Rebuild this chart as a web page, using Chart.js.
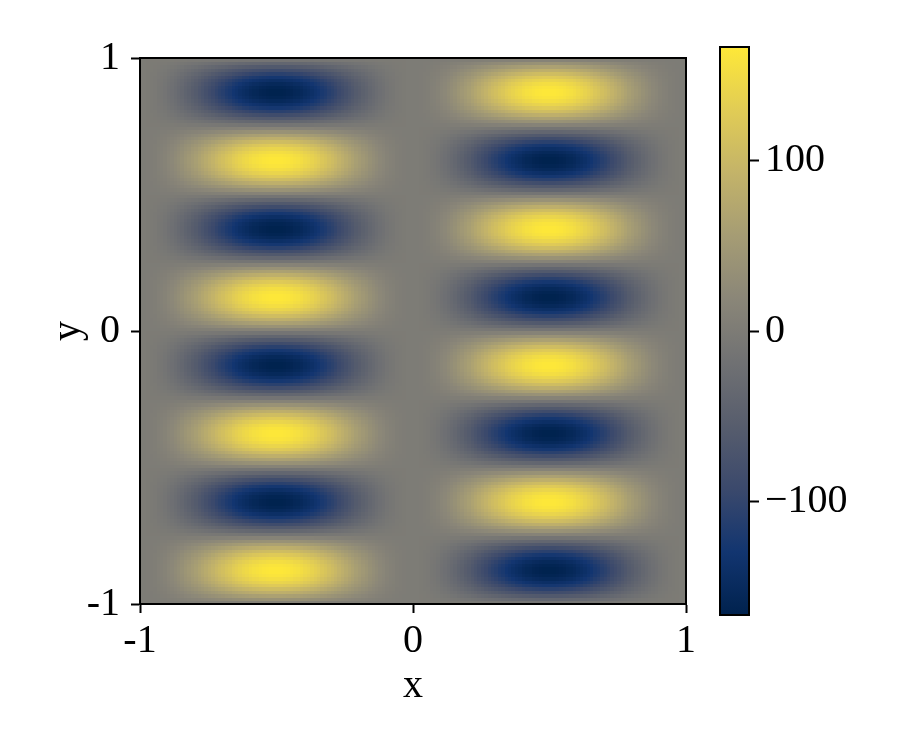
<!DOCTYPE html>
<html>
<head>
<meta charset="utf-8">
<script src="https://cdn.jsdelivr.net/npm/chart.js@4/dist/chart.umd.min.js"></script>
<style>
    body { margin: 0; background: #fff; }
    #wrap { position: relative; width: 900px; height: 750px; }
    #wrap canvas { position: absolute; left: 0; top: 0; }
</style>
</head>
<body>
<div id="wrap">
    <canvas id="heat" width="900" height="750"></canvas>
    <canvas id="cbar" width="900" height="750"></canvas>
</div>
<script>
// Grid cell centres (x and y run from -1 to 1, cell size 0.0125)
const cellSize = 0.0125;
const xCenters = [];
const yCenters = [];
for (let k = 0; k < 160; k++) {
    xCenters.push(-1 + cellSize * (k + 0.5));
    yCenters.push(-1 + cellSize * (k + 0.5));
}

// Amplitude along x, read across one band (left half positive, right half negative)
const xAmplitude = [
    0.00, 0.00, 0.01, 0.02, 0.03, 0.05, 0.06, 0.08, 0.11, 0.13,
    0.16, 0.19, 0.22, 0.26, 0.29, 0.33, 0.36, 0.40, 0.44, 0.48,
    0.52, 0.56, 0.60, 0.64, 0.67, 0.71, 0.74, 0.78, 0.81, 0.84,
    0.87, 0.89, 0.92, 0.94, 0.95, 0.97, 0.98, 0.99, 1.00, 1.00,
    1.00, 1.00, 0.99, 0.98, 0.97, 0.95, 0.94, 0.92, 0.89, 0.87,
    0.84, 0.81, 0.78, 0.74, 0.71, 0.67, 0.64, 0.60, 0.56, 0.52,
    0.48, 0.44, 0.40, 0.36, 0.33, 0.29, 0.26, 0.22, 0.19, 0.16,
    0.13, 0.11, 0.08, 0.06, 0.05, 0.03, 0.02, 0.01, 0.00, 0.00,
    -0.00, -0.00, -0.01, -0.02, -0.03, -0.05, -0.06, -0.08, -0.11, -0.13,
    -0.16, -0.19, -0.22, -0.26, -0.29, -0.33, -0.36, -0.40, -0.44, -0.48,
    -0.52, -0.56, -0.60, -0.64, -0.67, -0.71, -0.74, -0.78, -0.81, -0.84,
    -0.87, -0.89, -0.92, -0.94, -0.95, -0.97, -0.98, -0.99, -1.00, -1.00,
    -1.00, -1.00, -0.99, -0.98, -0.97, -0.95, -0.94, -0.92, -0.89, -0.87,
    -0.84, -0.81, -0.78, -0.74, -0.71, -0.67, -0.64, -0.60, -0.56, -0.52,
    -0.48, -0.44, -0.40, -0.36, -0.33, -0.29, -0.26, -0.22, -0.19, -0.16,
    -0.13, -0.11, -0.08, -0.06, -0.05, -0.03, -0.02, -0.01, -0.00, -0.00
];

// Values along the left band column, bottom (y=-1) to top (y=1)
const yValues = [
    13, 39, 64, 87, 108, 127, 142, 154, 162, 166,
    166, 162, 154, 142, 127, 108, 87, 64, 39, 13,
    -13, -39, -64, -87, -108, -127, -142, -154, -162, -166,
    -166, -162, -154, -142, -127, -108, -87, -64, -39, -13,
    13, 39, 64, 87, 108, 127, 142, 154, 162, 166,
    166, 162, 154, 142, 127, 108, 87, 64, 39, 13,
    -13, -39, -64, -87, -108, -127, -142, -154, -162, -166,
    -166, -162, -154, -142, -127, -108, -87, -64, -39, -13,
    13, 39, 64, 87, 108, 127, 142, 154, 162, 166,
    166, 162, 154, 142, 127, 108, 87, 64, 39, 13,
    -13, -39, -64, -87, -108, -127, -142, -154, -162, -166,
    -166, -162, -154, -142, -127, -108, -87, -64, -39, -13,
    13, 39, 64, 87, 108, 127, 142, 154, 162, 166,
    166, 162, 154, 142, 127, 108, 87, 64, 39, 13,
    -13, -39, -64, -87, -108, -127, -142, -154, -162, -166,
    -166, -162, -154, -142, -127, -108, -87, -64, -39, -13
];

// Axis ticks
const xTicks = [-1, 0, 1];
const yTicks = [-1, 0, 1];
const cbarTicks = [-100, 0, 100];
const vMin = -167;
const vMax = 167;

// Cividis colour stops
const cividis = ['#00224e', '#123570', '#3b496c', '#575d6d', '#707173',
                 '#8a8678', '#a59c74', '#c3b369', '#e1cc55', '#fee838'];

const FONT = "'Liberation Serif', 'DejaVu Serif', serif";

function hexToRgb(h) {
    return [parseInt(h.slice(1, 3), 16), parseInt(h.slice(3, 5), 16), parseInt(h.slice(5, 7), 16)];
}
const cividisRgb = cividis.map(hexToRgb);

function colorFor(v) {
    let t = (v - vMin) / (vMax - vMin);
    t = Math.max(0, Math.min(1, t));
    const pos = t * (cividisRgb.length - 1);
    const i = Math.min(Math.floor(pos), cividisRgb.length - 2);
    const f = pos - i;
    const a = cividisRgb[i], b = cividisRgb[i + 1];
    return `rgb(${Math.round(a[0] + (b[0] - a[0]) * f)},${Math.round(a[1] + (b[1] - a[1]) * f)},${Math.round(a[2] + (b[2] - a[2]) * f)})`;
}

// Build the table of cells
const cells = [];
xCenters.forEach((xc, i) => {
    yCenters.forEach((yc, j) => {
        cells.push({ x: xc, y: yc, v: xAmplitude[i] * yValues[j] });
    });
});

// Draw the heatmap cells through the chart scales
const heatmapPlugin = {
    id: 'heatmap',
    beforeDatasetsDraw(chart) {
        const ctx = chart.ctx;
        const xs = chart.scales.x, ys = chart.scales.y;
        ctx.save();
        cells.forEach(c => {
            const x0 = Math.floor(xs.getPixelForValue(c.x - cellSize / 2));
            const x1 = Math.ceil(xs.getPixelForValue(c.x + cellSize / 2));
            const y0 = Math.floor(ys.getPixelForValue(c.y + cellSize / 2));
            const y1 = Math.ceil(ys.getPixelForValue(c.y - cellSize / 2));
            ctx.fillStyle = colorFor(c.v);
            ctx.fillRect(x0, y0, x1 - x0, y1 - y0);
        });
        ctx.restore();
    },
    afterDraw(chart) {
        const a = chart.chartArea;
        const ctx = chart.ctx;
        ctx.save();
        ctx.strokeStyle = '#000';
        ctx.lineWidth = 2;
        ctx.strokeRect(a.left, a.top, a.right - a.left, a.bottom - a.top);
        ctx.restore();
    }
};

function axisTicks(list) {
    return function(scale) {
        scale.ticks = list.map(v => ({ value: v }));
    };
}

new Chart(document.getElementById('heat').getContext('2d'), {
    type: 'scatter',
    data: { datasets: [] },
    options: {
        responsive: false,
        animation: false,
        events: [],
        layout: { padding: { left: 0, top: 58, right: 214, bottom: 0 } },
        plugins: { legend: { display: false }, tooltip: { enabled: false } },
        scales: {
            x: {
                type: 'linear',
                min: -1,
                max: 1,
                afterBuildTicks: axisTicks(xTicks),
                afterFit(scale) { scale.height = 146; },
                grid: { drawOnChartArea: false, drawTicks: true, tickLength: 9, tickWidth: 2, color: '#000' },
                border: { display: true, color: '#000', width: 2 },
                ticks: {
                    color: '#000',
                    padding: 4,
                    maxRotation: 0,
                    font: { family: FONT, size: 40 },
                    callback: v => String(v)
                },
                title: {
                    display: true,
                    text: 'x',
                    color: '#000',
                    padding: { top: 0, bottom: 40 },
                    font: { family: FONT, size: 40, lineHeight: 1.2 }
                }
            },
            y: {
                type: 'linear',
                min: -1,
                max: 1,
                afterBuildTicks: axisTicks(yTicks),
                afterFit(scale) { scale.width = 140; },
                grid: { drawOnChartArea: false, drawTicks: true, tickLength: 9, tickWidth: 2, color: '#000' },
                border: { display: true, color: '#000', width: 2 },
                ticks: {
                    color: '#000',
                    padding: 11,
                    font: { family: FONT, size: 40 },
                    callback: v => String(v)
                },
                title: {
                    display: true,
                    text: 'y',
                    color: '#000',
                    padding: { top: 44, bottom: 0 },
                    font: { family: FONT, size: 40, lineHeight: 1.2 }
                }
            }
        }
    },
    plugins: [heatmapPlugin]
});

// Colour bar
const colorbarPlugin = {
    id: 'colorbar',
    beforeDatasetsDraw(chart) {
        const ctx = chart.ctx;
        const a = chart.chartArea;
        const ys = chart.scales.y;
        const grad = ctx.createLinearGradient(0, ys.getPixelForValue(vMin), 0, ys.getPixelForValue(vMax));
        cividis.forEach((c, i) => grad.addColorStop(i / (cividis.length - 1), c));
        ctx.save();
        ctx.fillStyle = grad;
        ctx.fillRect(a.left, a.top, a.right - a.left, a.bottom - a.top);
        ctx.strokeStyle = '#000';
        ctx.lineWidth = 2;
        ctx.strokeRect(a.left, a.top, a.right - a.left, a.bottom - a.top);
        ctx.restore();
    }
};

new Chart(document.getElementById('cbar').getContext('2d'), {
    type: 'scatter',
    data: { datasets: [] },
    options: {
        responsive: false,
        animation: false,
        events: [],
        layout: { padding: { left: 720, top: 47, right: 0, bottom: 135 } },
        plugins: { legend: { display: false }, tooltip: { enabled: false } },
        scales: {
            x: { display: false, min: 0, max: 1 },
            y: {
                type: 'linear',
                position: 'right',
                min: vMin,
                max: vMax,
                afterBuildTicks: axisTicks(cbarTicks),
                afterFit(scale) { scale.width = 151; },
                grid: { drawOnChartArea: false, drawTicks: true, tickLength: 10, tickWidth: 2, color: '#000' },
                border: { display: false },
                ticks: {
                    color: '#000',
                    padding: 6,
                    font: { family: FONT, size: 40 },
                    callback: v => v < 0 ? '\u2212' + Math.abs(v) : String(v)
                }
            }
        }
    },
    plugins: [colorbarPlugin]
});
</script>
</body>
</html>
